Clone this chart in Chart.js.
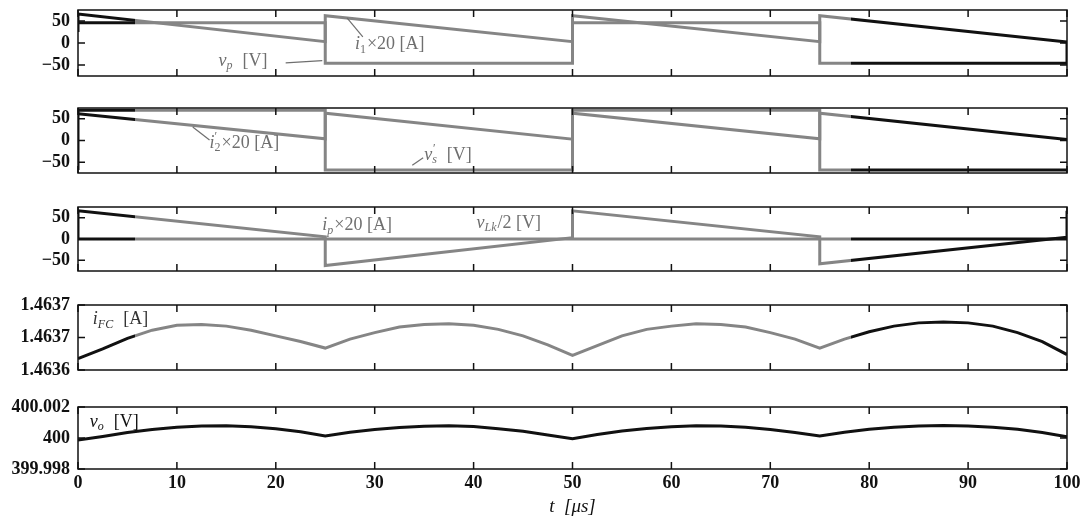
<!DOCTYPE html>
<html>
<head>
<meta charset="utf-8">
<script src="https://cdn.jsdelivr.net/npm/chart.js@4.4.1/dist/chart.umd.min.js"></script>
<style>
  body { margin: 0; background: #fff; }
  #wrap { position: relative; width: 1089px; height: 524px; overflow: hidden; }
  .panel { position: absolute; left: 0; width: 1089px; }
</style>
</head>
<body>
<div id="wrap">
  <div class="panel" style="top:-2px"><canvas id="c1" width="1089" height="90"></canvas></div>
  <div class="panel" style="top:96px"><canvas id="c2" width="1089" height="89"></canvas></div>
  <div class="panel" style="top:195px"><canvas id="c3" width="1089" height="88"></canvas></div>
  <div class="panel" style="top:293px"><canvas id="c4" width="1089" height="89"></canvas></div>
  <div class="panel" style="top:395px"><canvas id="c5" width="1089" height="129"></canvas></div>
</div>
<script>
// time axis, microseconds
const xTicks = [0, 10, 20, 30, 40, 50, 60, 70, 80, 90, 100];

// panel 1: v_p [V] and i_1 x20 [A]
const vpT = [0, 25, 25, 50, 50, 75, 75, 100];
const vpV = [46, 46, -46, -46, 46, 46, -46, -46];
const i1T = [0, 0, 25, 25, 50, 50, 75, 75, 100, 100];
const i1V = [25, 66, 3, 62, 3, 62, 3, 62, 2, -44];

// panel 2: i'_2 x20 [A] and v'_s [V]
const i2T = [0, 25, 25, 50, 50, 75, 75, 100];
const i2V = [62, 4, 63, 3, 63, 4, 63, 2];
const vsT = [0, 0, 25, 25, 50, 50, 75, 75, 100];
const vsV = [-68, 70, 70, -68, -68, 70, 70, -68, -68];

// panel 3: i_p x20 [A] and v_Lk/2 [V]
const ipT = [0, 0, 25, 25, 50, 50, 75, 75, 100, 100];
const ipV = [0, 66, 5, -62, 3, 66, 5, -58, 4, 66];
const vlkT = [0, 100];
const vlkV = [0, 0];

// panels 4 and 5 share the same sample times
const slowT = [0, 2.5, 5, 7.5, 10, 12.5, 15, 17.5, 20, 22.5, 25, 27.5, 30, 32.5, 35, 37.5, 40, 42.5, 45, 47.5,
    50, 52.5, 55, 57.5, 60, 62.5, 65, 67.5, 70, 72.5, 75, 77.5, 80, 82.5, 85, 87.5, 90, 92.5, 95, 97.5, 100];
const ifcV = [1.463634, 1.463646, 1.463659, 1.463669, 1.463675, 1.463676, 1.463674, 1.463669, 1.463662, 1.463655,
    1.463647, 1.463658, 1.463666, 1.463673, 1.463676, 1.463677, 1.463675, 1.463670, 1.463662, 1.463651,
    1.463638, 1.463650, 1.463662, 1.463670, 1.463674, 1.463677, 1.463676, 1.463673, 1.463666, 1.463658,
    1.463647, 1.463658, 1.463667, 1.463674, 1.463678, 1.463679, 1.463678, 1.463674, 1.463666, 1.463655, 1.463639];
const voV = [399.99987, 400.00010, 400.00035, 400.00055, 400.00070, 400.00078, 400.00079, 400.00072, 400.00060, 400.00040,
    400.00013, 400.00037, 400.00055, 400.00068, 400.00076, 400.00079, 400.00074, 400.00060, 400.00043, 400.00020,
    399.99995, 400.00022, 400.00045, 400.00062, 400.00073, 400.00079, 400.00077, 400.00069, 400.00055, 400.00036,
    400.00013, 400.00037, 400.00056, 400.00070, 400.00078, 400.00080, 400.00078, 400.00070, 400.00056, 400.00036, 400.00008];

const swTicks = [-50, 0, 50];
const fcTicks = [1.46362, 1.46366, 1.46370];
const voTicks = [399.998, 400, 400.002];

const BLACK = "#111111";
const GRAY = "#858585";
const FONT = "'Liberation Serif', 'DejaVu Serif', serif";
// the printed copy shows the trace black before ~5.8 us and after ~78.2 us
const blackUntil = 5.8;
const blackFrom = 78.2;

function pts(ts, vs) {
    return ts.map((t, i) => ({ x: t, y: vs[i] }));
}

function scanColor(context) {
    let chart = context.chart;
    let area = chart.chartArea;
    if (!area) return GRAY;
    let xs = chart.scales.x;
    let f1 = (xs.getPixelForValue(blackUntil) - area.left) / area.width;
    let f2 = (xs.getPixelForValue(blackFrom) - area.left) / area.width;
    let g = chart.ctx.createLinearGradient(area.left, 0, area.right, 0);
    g.addColorStop(0, BLACK);
    g.addColorStop(f1, BLACK);
    g.addColorStop(f1, GRAY);
    g.addColorStop(f2, GRAY);
    g.addColorStop(f2, BLACK);
    g.addColorStop(1, BLACK);
    return g;
}

function trace(data, color) {
    return {
        data: data,
        borderColor: color || scanColor,
        borderWidth: 3,
        pointRadius: 0,
        tension: 0,
        fill: false
    };
}

function drawRich(ctx, parts, x, y) {
    let cx = x;
    ctx.textBaseline = "middle";
    ctx.textAlign = "left";
    parts.forEach(p => {
        if (p.sub || p.sup) {
            ctx.font = (p.it ? "italic " : "") + "12px " + FONT;
            let w = 0;
            if (p.sup) { ctx.fillText(p.sup, cx, y - 6); w = ctx.measureText(p.sup).width; }
            if (p.sub) { ctx.fillText(p.sub, cx, y + 5); w = Math.max(w, ctx.measureText(p.sub).width); }
            cx += w + 1;
        } else {
            ctx.font = (p.it ? "italic " : "") + "18px " + FONT;
            ctx.fillText(p.t, cx, y);
            cx += ctx.measureText(p.t).width;
        }
    });
}

function framePlugin(notes) {
    return {
        id: "frame",
        afterDraw(chart) {
            let ctx = chart.ctx;
            let a = chart.chartArea;
            let xs = chart.scales.x;
            let ys = chart.scales.y;
            ctx.save();
            ctx.strokeStyle = BLACK;
            ctx.lineWidth = 1.5;
            ctx.strokeRect(a.left, a.top, a.width, a.height);
            ctx.beginPath();
            xTicks.forEach(v => {
                let px = xs.getPixelForValue(v);
                ctx.moveTo(px, a.top); ctx.lineTo(px, a.top + 7);
                ctx.moveTo(px, a.bottom); ctx.lineTo(px, a.bottom - 7);
            });
            ys.ticks.forEach(t => {
                let py = ys.getPixelForValue(t.value);
                ctx.moveTo(a.left, py); ctx.lineTo(a.left + 7, py);
                ctx.moveTo(a.right, py); ctx.lineTo(a.right - 7, py);
            });
            ctx.stroke();

            notes.forEach(n => {
                ctx.fillStyle = n.color;
                ctx.strokeStyle = n.color;
                drawRich(ctx, n.parts, xs.getPixelForValue(n.x), ys.getPixelForValue(n.y));
                if (n.lead) {
                    ctx.lineWidth = 1.2;
                    ctx.beginPath();
                    ctx.moveTo(xs.getPixelForValue(n.lead[0]), ys.getPixelForValue(n.lead[1]));
                    ctx.lineTo(xs.getPixelForValue(n.lead[2]), ys.getPixelForValue(n.lead[3]));
                    ctx.stroke();
                }
            });
            ctx.restore();
        }
    };
}

function makeChart(id, datasets, yMin, yMax, yTicks, fmt, notes, bottom) {
    let xAxis = {
        type: "linear",
        min: 0,
        max: 100,
        display: bottom,
        grid: { display: false, drawTicks: false },
        border: { display: false },
        afterBuildTicks: s => { s.ticks = xTicks.map(v => ({ value: v })); },
        ticks: {
            color: BLACK,
            padding: 4,
            maxRotation: 0,
            font: { family: FONT, size: 18, weight: "bold" }
        },
        title: {
            display: bottom,
            text: "t  [μs]",
            color: BLACK,
            padding: { top: 0, bottom: 6 },
            font: { family: FONT, size: 19, style: "italic" }
        }
    };
    if (bottom) xAxis.afterFit = s => { s.height = 55; s.paddingLeft = 0; s.paddingRight = 0; };

    return new Chart(document.getElementById(id), {
        type: "line",
        data: { datasets: datasets },
        options: {
            responsive: false,
            animation: false,
            events: [],
            layout: { padding: { left: 0, right: 22, top: 12, bottom: bottom ? 0 : 12 } },
            plugins: { legend: { display: false }, tooltip: { enabled: false } },
            scales: {
                x: xAxis,
                y: {
                    type: "linear",
                    min: yMin,
                    max: yMax,
                    grid: { display: false, drawTicks: false },
                    border: { display: false },
                    afterBuildTicks: s => { s.ticks = yTicks.map(v => ({ value: v })); },
                    // fixed gutter; label overflow is already covered by the layout padding
                    afterFit: s => { s.width = 78; s.paddingTop = 0; s.paddingBottom = 0; },
                    ticks: {
                        color: BLACK,
                        padding: 8,
                        font: { family: FONT, size: 18, weight: "bold" },
                        callback: v => fmt(v)
                    }
                }
            }
        },
        plugins: [framePlugin(notes)]
    });
}

let fmtSw = v => (v < 0 ? "\u2212" + Math.abs(v) : String(v));
let fmtFc = v => v.toFixed(4);
let fmtVo = v => String(Number(v.toFixed(3)));

makeChart("c1", [trace(pts(vpT, vpV)), trace(pts(i1T, i1V))], -75, 75, swTicks, fmtSw, [
    { x: 14.2, y: -41, color: "#6f6f6f", parts: [{ t: "v", it: 1 }, { sub: "p", it: 1 }, { t: "  [V]" }], lead: [21.0, -45, 24.7, -40] },
    { x: 28.0, y: -4, color: "#6f6f6f", parts: [{ t: "i", it: 1 }, { sub: "1" }, { t: "×20 [A]" }], lead: [27.2, 57, 28.8, 14] }
], false);

makeChart("c2", [trace(pts(i2T, i2V)), trace(pts(vsT, vsV))], -75, 75, swTicks, fmtSw, [
    { x: 13.3, y: -6, color: "#6f6f6f", parts: [{ t: "i", it: 1 }, { sup: "′", sub: "2" }, { t: "×20 [A]" }], lead: [11.6, 31, 13.3, 1] },
    { x: 35.0, y: -33, color: "#6f6f6f", parts: [{ t: "v", it: 1 }, { sup: "′", sub: "s", it: 1 }, { t: "  [V]" }], lead: [33.8, -57, 34.9, -40] }
], false);

makeChart("c3", [trace(pts(ipT, ipV)), trace(pts(vlkT, vlkV))], -75, 75, swTicks, fmtSw, [
    { x: 24.7, y: 32, color: "#6f6f6f", parts: [{ t: "i", it: 1 }, { sub: "p", it: 1 }, { t: "×20 [A]" }] },
    { x: 40.3, y: 38, color: "#6f6f6f", parts: [{ t: "v", it: 1 }, { sub: "Lk", it: 1 }, { t: "/2 [V]" }] }
], false);

makeChart("c4", [trace(pts(slowT, ifcV))], 1.46362, 1.46370, fcTicks, fmtFc, [
    { x: 1.5, y: 1.463682, color: "#333333", parts: [{ t: "i", it: 1 }, { sub: "FC", it: 1 }, { t: "  [A]" }] }
], false);

makeChart("c5", [trace(pts(slowT, voV), BLACK)], 399.998, 400.002, voTicks, fmtVo, [
    { x: 1.2, y: 400.00103, color: BLACK, parts: [{ t: "v", it: 1 }, { sub: "o", it: 1 }, { t: "  [V]" }] }
], true);
</script>
</body>
</html>
